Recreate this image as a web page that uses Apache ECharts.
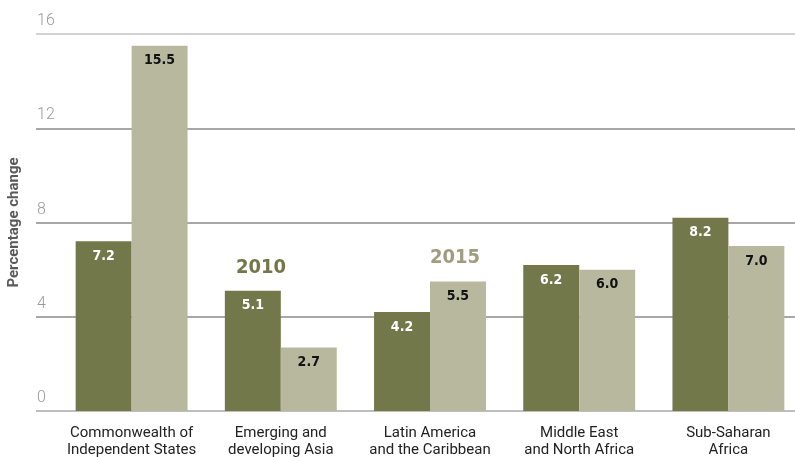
<!DOCTYPE html>
<html>
<head>
<meta charset="utf-8">
<script src="https://cdn.jsdelivr.net/npm/echarts@6/dist/echarts.min.js"></script>
<style>
  html, body { margin: 0; padding: 0; background: #fff; }
  #chart { width: 795px; height: 457px; }
</style>
</head>
<body>
<div id="chart"></div>
<script>
// regions along the x axis
var regions = [
  'Commonwealth of\nIndependent States',
  'Emerging and\ndeveloping Asia',
  'Latin America\nand the Caribbean',
  'Middle East\nand North Africa',
  'Sub-Saharan\nAfrica'
];
var values2010 = [7.2, 5.1, 4.2, 6.2, 8.2];
var values2015 = [15.5, 2.7, 5.5, 6.0, 7.0];
var yTicks = [0, 4, 8, 12, 16];

var darkOlive = '#727849';
var lightOlive = '#b7b89e';
var condensed = '"DejaVu Sans Condensed", Roboto, sans-serif';

var myChart = echarts.init(document.getElementById('chart'));

var option = {
  backgroundColor: '#fff',
  animation: false,
  grid: [
    { left: 57, right: -8, top: 34, bottom: 46, outerBoundsMode: 'none' },
    { left: 36, right: 0, top: 34, bottom: 46, outerBoundsMode: 'none' }
  ],
  xAxis: [
    {
      type: 'category',
      gridIndex: 0,
      data: regions,
      axisLine: { show: false },
      axisTick: { show: false },
      axisLabel: {
        interval: 0,
        color: '#222',
        fontFamily: 'Roboto, sans-serif',
        fontSize: 15,
        lineHeight: 17,
        margin: 14
      }
    },
    {
      type: 'category',
      gridIndex: 1,
      data: regions,
      show: false
    }
  ],
  yAxis: [
    {
      type: 'value',
      gridIndex: 0,
      min: 0,
      max: 16,
      interval: 4,
      show: false
    },
    {
      type: 'value',
      gridIndex: 1,
      min: yTicks[0],
      max: yTicks[yTicks.length - 1],
      interval: 4,
      axisLine: { show: false },
      axisTick: { show: false },
      axisLabel: {
        inside: true,
        margin: 1,
        verticalAlign: 'bottom',
        padding: [0, 0, 5, 0],
        color: '#9a9a9a',
        fontFamily: 'Roboto, sans-serif',
        fontWeight: 300,
        fontSize: 16
      },
      splitLine: {
        show: true,
        lineStyle: {
          color: ['#a8a8a8', '#8a8a8a', '#8a8a8a', '#8a8a8a', '#c4c4c4'],
          width: 1.5
        }
      },
      name: 'Percentage change',
      nameLocation: 'middle',
      nameGap: 14,
      nameRotate: 90,
      nameTextStyle: {
        color: '#5a5a5a',
        fontFamily: 'Roboto, sans-serif',
        fontWeight: 'bold',
        fontSize: 15
      }
    }
  ],
  graphic: [
    {
      type: 'text',
      left: 236,
      top: 258,
      style: {
        text: '2010',
        fill: darkOlive,
        font: 'bold 20px ' + condensed
      }
    },
    {
      type: 'text',
      left: 430,
      top: 248,
      style: {
        text: '2015',
        fill: '#9c9f7f',
        font: 'bold 20px ' + condensed
      }
    }
  ],
  series: [
    {
      name: '2010',
      type: 'bar',
      xAxisIndex: 0,
      yAxisIndex: 0,
      data: values2010,
      barGap: '0%',
      barCategoryGap: '25%',
      itemStyle: { color: darkOlive },
      label: {
        show: true,
        position: 'insideTop',
        distance: 8,
        color: '#fff',
        fontFamily: condensed,
        fontWeight: 'bold',
        fontSize: 14,
        formatter: function (p) { return p.value.toFixed(1); }
      }
    },
    {
      name: '2015',
      type: 'bar',
      xAxisIndex: 0,
      yAxisIndex: 0,
      data: values2015,
      barGap: '0%',
      barCategoryGap: '25%',
      itemStyle: { color: lightOlive },
      label: {
        show: true,
        position: 'insideTop',
        distance: 8,
        color: '#111',
        fontFamily: condensed,
        fontWeight: 'bold',
        fontSize: 14,
        formatter: function (p) { return p.value.toFixed(1); }
      }
    }
  ]
};

myChart.setOption(option);
</script>
</body>
</html>
